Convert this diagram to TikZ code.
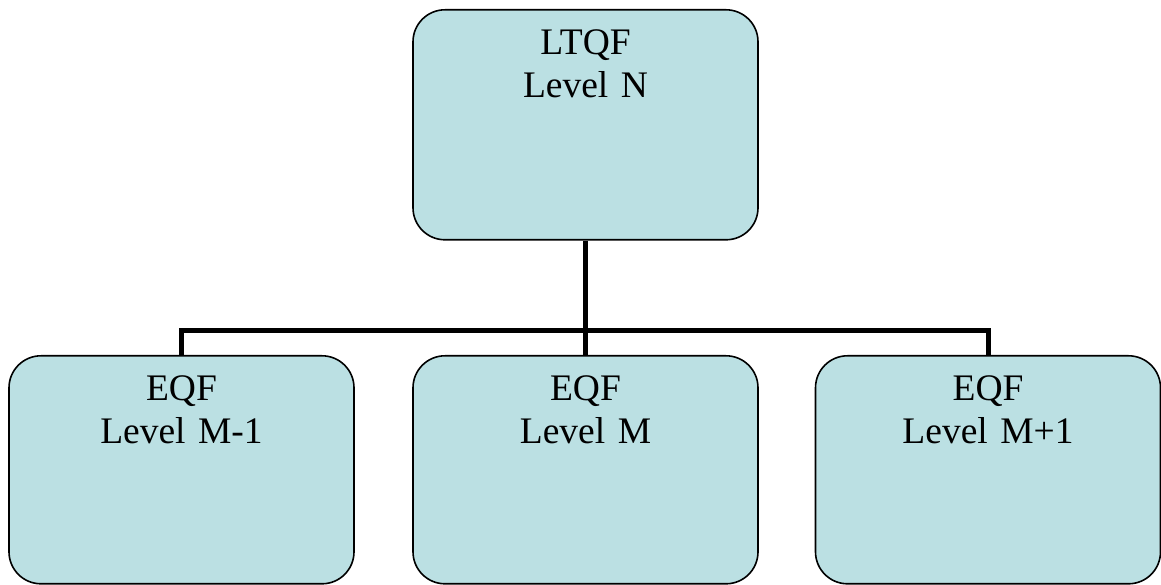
\documentclass[tikz,border=0pt]{standalone}
\usepackage{fontspec}
\setmainfont{Liberation Serif}
\definecolor{qfblue}{RGB}{187,224,227}
\tikzset{
	qfbox/.style = {draw, line width=1.6pt, fill=qfblue, rounded corners=32pt,
			align=center, anchor=north, inner sep=6pt, text width=333pt,
			text height=39pt, font=\fontsize{37.5}{43}\selectfont},
	link/.style = {line width=5pt},
}
\begin{document}
\begin{tikzpicture}[x=1pt, y=1pt]
	\useasboundingbox (0,0) rectangle (1161,585);
	\node[qfbox, text depth=179pt] (ltqf) at (585.5,576) {LTQF\\Level N};
	\node[qfbox, text depth=177pt] (eqfl) at (181.5,230) {EQF\\Level M-1};
	\node[qfbox, text depth=177pt] (eqfm) at (585.5,230) {EQF\\Level M};
	\node[qfbox, text depth=177pt] (eqfr) at (988,230) {EQF\\Level M+1};
	\coordinate (split) at (585.5,254);
	% tree connectors
	\draw[link] (ltqf.south) -- (split);
	\draw[link] (eqfm.north) -- (split);
	\draw[link] (eqfl.north) |- (split) -| (eqfr.north);
\end{tikzpicture}
\end{document}
